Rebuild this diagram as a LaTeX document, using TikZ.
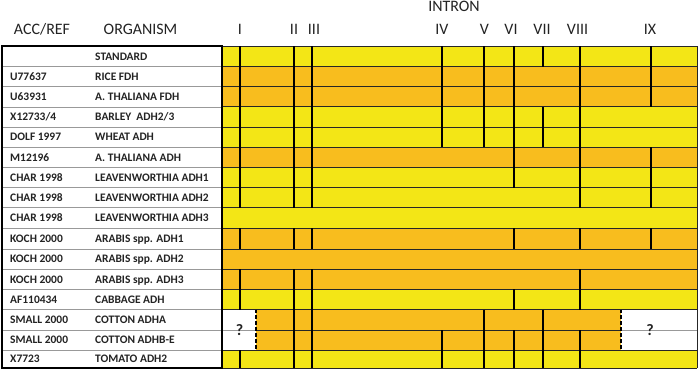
\documentclass[tikz,border=0pt]{standalone}
\usepackage{fontspec}
\setmainfont{Carlito}
\definecolor{yel}{RGB}{243,230,22}
\definecolor{org}{RGB}{248,189,30}
\definecolor{ink}{RGB}{35,35,35}
\tikzset{
  intron/.style={line width=1.7pt, black},
  rowsep/.style={line width=0.9pt, black!85},
  tabsep/.style={line width=0.6pt, black!40},
  hdr/.style={font=\fontsize{16}{16}\selectfont, text=ink, inner sep=0pt, anchor=base},
  cell/.style={font=\bfseries\fontsize{11.5}{11.5}\selectfont, text=ink, inner sep=0pt, anchor=base west},
  qmark/.style={font=\bfseries\fontsize{16}{16}\selectfont, text=ink, inner sep=0pt},
  cutedge/.style={line width=1.3pt, black, dash pattern=on 3.5pt off 2.5pt},
}
\def\Yl{{46,66.5,86.7,106.8,127,147.2,167.5,187.7,207.7,228.3,249,269.3,289.3,309.5,330,350,368}}
\newcommand\barfill[2]{%
  \pgfmathsetmacro\ya{\Yl[#1]}\pgfmathsetmacro\yb{\Yl[#1+1]}%
  \fill[#2] (222,\ya) rectangle (697,\yb);}
\newcommand\barlines[2]{%
  \pgfmathsetmacro\ya{\Yl[#1]}\pgfmathsetmacro\yb{\Yl[#1+1]}%
  \foreach \xx in {#2} {\draw[intron] (\xx,\ya) -- (\xx,\yb);}}
\newcommand\tabrow[3]{%
  \pgfmathsetmacro\ya{\Yl[#1]}\pgfmathsetmacro\yb{\Yl[#1+1]}%
  \pgfmathsetmacro\yc{(\ya+\yb)/2+3.8}%
  \node[cell] (acc#1) at (10,\yc) {#2};
  \node[cell] (org#1) at (95,\yc) {#3};}
\begin{document}
\begin{tikzpicture}[x=1bp,y=-1bp]
\useasboundingbox (0,0) rectangle (700,371);
\fill[white] (0,0) rectangle (700,371);
% bar fills
\barfill{0}{yel}\barfill{1}{org}\barfill{2}{org}\barfill{3}{yel}
\barfill{4}{yel}\barfill{5}{org}\barfill{6}{yel}\barfill{7}{yel}
\barfill{8}{yel}\barfill{9}{org}\barfill{10}{org}\barfill{11}{org}
\barfill{12}{yel}\barfill{13}{org}\barfill{14}{org}\barfill{15}{yel}
% cotton unknown regions
\pgfmathsetmacro\ct{\Yl[13]}\pgfmathsetmacro\cm{\Yl[14]}\pgfmathsetmacro\cb{\Yl[15]}
\fill[white] (222,\ct) rectangle (256,\cb);
\fill[white] (621,\ct) rectangle (697,\cb);
% row separators
\foreach \i in {0,...,16} {
  \pgfmathsetmacro\yy{\Yl[\i]}
  \ifnum\i=14\relax
    \draw[rowsep] (256,\yy) -- (621,\yy);
    \draw[tabsep] (222,\yy) -- (256,\yy);
    \draw[tabsep] (621,\yy) -- (697,\yy);
  \else
    \draw[rowsep] (222,\yy) -- (697,\yy);
  \fi
}
\draw[rowsep] (697,46) -- (697,368);
% intron positions
\barlines{0}{240,294,312,442,484,514,543,580,651}
\barlines{1}{240,294,312,442,484,514,580,651}
\barlines{2}{240,294,312,442,484,514,580,651}
\barlines{3}{240,294,312,442,484,514,543,580}
\barlines{4}{240,294,312,442,484,514,543,580}
\barlines{5}{240,294,312,514,580,651}
\barlines{6}{240,294,312,514,580,651}
\barlines{7}{240,294,312,580,651}
\barlines{9}{240,294,312,514,580,651}
\barlines{11}{240,294,312,580}
\barlines{12}{240,294,312,514,580}
\barlines{13}{294,312,484,543}
\barlines{14}{294,312,442,484,514,543,580}
\barlines{15}{240,294,312,442,484,514,543,580}
% cotton cut edges and question marks
\draw[cutedge] (256,\ct) -- (256,\cb);
\draw[cutedge] (621,\ct) -- (621,\cb);
\node[qmark] (q1) at (239.5,\cm) {?};
\node[qmark] (q2) at (650,\cm) {?};
% table
\fill[white] (2,46) rectangle (222,368);
\foreach \i in {1,...,15} {
  \pgfmathsetmacro\yy{\Yl[\i]}
  \draw[tabsep] (2,\yy) -- (222,\yy);
}
\draw[line width=1.8pt, black] (2,46) rectangle (222,368);
\tabrow{0}{}{STANDARD}
\tabrow{1}{U77637}{RICE FDH}
\tabrow{2}{U63931}{A. THALIANA FDH}
\tabrow{3}{X12733/4}{BARLEY\ \ ADH2/3}
\tabrow{4}{DOLF 1997}{WHEAT ADH}
\tabrow{5}{M12196}{A. THALIANA ADH}
\tabrow{6}{CHAR 1998}{LEAVENWORTHIA ADH1}
\tabrow{7}{CHAR 1998}{LEAVENWORTHIA ADH2}
\tabrow{8}{CHAR 1998}{LEAVENWORTHIA ADH3}
\tabrow{9}{KOCH 2000}{ARABIS spp. ADH1}
\tabrow{10}{KOCH 2000}{ARABIS spp. ADH2}
\tabrow{11}{KOCH 2000}{ARABIS spp. ADH3}
\tabrow{12}{AF110434}{CABBAGE ADH}
\tabrow{13}{SMALL 2000}{COTTON ADHA}
\tabrow{14}{SMALL 2000}{COTTON ADHB-E}
\tabrow{15}{X7723}{TOMATO ADH2}
% headers
\node[hdr] (hacc) at (42,34.4) {ACC/REF};
\node[hdr] (horg) at (140.5,34.4) {ORGANISM};
\node[hdr] (hint) at (454,11.5) {INTRON};
\node[hdr] (n1) at (240,34.4) {I};
\node[hdr] (n2) at (294,34.4) {II};
\node[hdr] (n3) at (314,34.4) {III};
\node[hdr] (n4) at (442,34.4) {IV};
\node[hdr] (n5) at (484.5,34.4) {V};
\node[hdr] (n6) at (511,34.4) {VI};
\node[hdr] (n7) at (542,34.4) {VII};
\node[hdr] (n8) at (577.5,34.4) {VIII};
\node[hdr] (n9) at (650,34.4) {IX};
\end{tikzpicture}
\end{document}
